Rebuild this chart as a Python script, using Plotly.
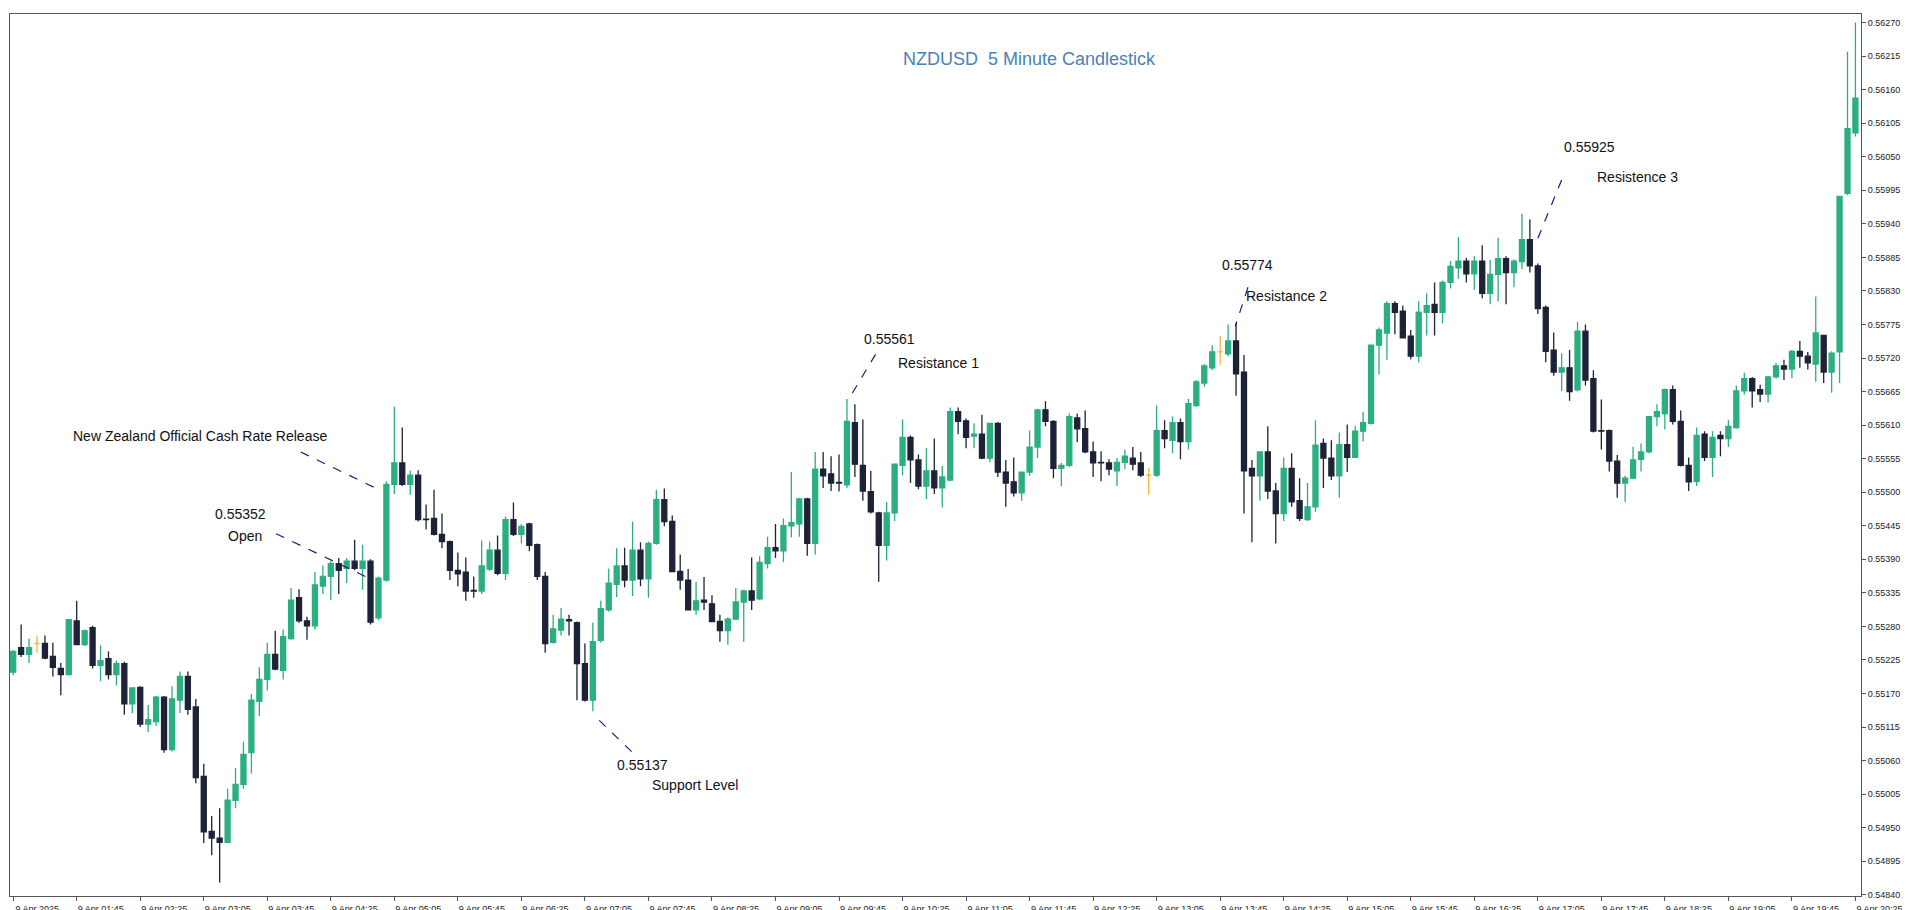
import plotly.graph_objects as go

# OHLC in units of 1e-5 (NZDUSD 5-minute candles, 9 Apr 2025 01:05 .. 20:25)
opens = [55205,55245,55234,55252,55252,55231,55211,55201,55289,55250,55278,55216,55227,55201,55219,55153,55180,55120,55124,55164,
55078,55159,55198,55148,55034,54944,54933,54926,54995,55021,55073,55157,55193,55234,55208,55260,55327,55289,55281,55346,
55362,55383,55375,55387,55375,55387,55294,55356,55513,55548,55513,55528,55456,55457,55431,55419,55372,55369,55339,55338,
55374,55405,55367,55455,55431,55448,55414,55362,55254,55274,55291,55286,55219,55159,55257,55307,55349,55379,55356,55405,
55358,55416,55488,55452,55370,55356,55307,55323,55317,55288,55273,55292,55320,55338,55325,55383,55409,55404,55445,55448,
55489,55416,55538,55530,55516,55512,55614,55544,55501,55466,55413,55466,55544,55590,55553,55510,55535,55507,55520,55632,
55617,55592,55595,55556,55613,55533,55517,55499,55533,55574,55635,55616,55539,55544,55622,55604,55566,55549,55548,55535,
55549,55556,55548,55528,55528,55601,55585,55614,55583,55642,55679,55704,55730,55727,55748,55697,55539,55527,55566,55502,
55465,55539,55486,55455,55476,55580,55556,55527,55578,55557,55600,55613,55741,55761,55809,55797,55756,55723,55795,55808,
55795,55844,55868,55879,55858,55879,55826,55857,55883,55860,55878,55914,55871,55803,55733,55697,55704,55668,55764,55686,
55601,55601,55551,55515,55523,55554,55566,55624,55629,55668,55616,55544,55518,55595,55557,55593,55588,55606,55666,55686,
55668,55661,55689,55707,55702,55731,55723,55710,55757,55697,55730,55990,56089]
highs = [55241,55283,55260,55265,55265,55253,55220,55291,55322,55275,55281,55249,55239,55224,55222,55180,55182,55151,55166,55166,
55182,55206,55206,55161,55055,54969,54982,55014,55048,55091,55169,55213,55253,55273,55275,55343,55341,55296,55369,55380,
55387,55392,55392,55422,55414,55390,55362,55518,55640,55606,55535,55536,55480,55504,55465,55421,55401,55393,55362,55421,
55419,55429,55460,55483,55448,55450,55416,55369,55299,55310,55299,55288,55252,55286,55322,55375,55408,55409,55452,55418,
55419,55504,55506,55462,55398,55374,55353,55361,55331,55299,55295,55343,55340,55393,55395,55427,55448,55457,55533,55491,
55491,55566,55566,55559,55562,55653,55644,55619,55535,55468,55484,55546,55619,55593,55562,55572,55588,55543,55639,55639,
55621,55613,55627,55613,55615,55553,55557,55533,55601,55637,55649,55618,55548,55629,55629,55634,55583,55567,55554,55556,
55570,55574,55566,55540,55642,55618,55624,55621,55653,55684,55710,55741,55756,55775,55777,55725,55553,55567,55608,55515,
55557,55564,55523,55515,55618,55588,55585,55598,55611,55609,55632,55741,55770,55813,55813,55806,55766,55813,55826,55844,
55847,55879,55918,55884,55887,55905,55881,55917,55887,55882,55956,55947,55875,55806,55762,55728,55733,55779,55775,55700,
55652,55603,55561,55527,55574,55580,55624,55644,55670,55675,55634,55557,55606,55600,55600,55600,55618,55675,55696,55689,
55676,55691,55712,55717,55733,55748,55730,55821,55757,55731,55985,56222,56270]
lows = [55200,55230,55220,55237,55226,55198,55167,55201,55249,55248,55211,55190,55193,55183,55135,55138,55115,55107,55117,55073,
55075,55138,55135,55023,54925,54905,54860,54926,54982,55014,55039,55133,55175,55208,55193,55258,55286,55258,55275,55333,
55323,55333,55351,55372,55340,55283,55290,55353,55497,55510,55496,55452,55439,55429,55408,55356,55346,55322,55327,55333,
55371,55364,55356,55428,55416,55403,55356,55237,55252,55265,55265,55159,55157,55141,55253,55304,55328,55344,55330,55346,
55327,55414,55444,55369,55340,55306,55299,55307,55287,55255,55250,55290,55255,55307,55323,55375,55392,55385,55426,55427,
55396,55398,55507,55502,55501,55507,55525,55486,55465,55353,55388,55453,55528,55515,55505,55489,55497,55475,55518,55595,
55572,55572,55554,55549,55525,55476,55493,55486,55527,55556,55608,55523,55510,55541,55582,55564,55525,55518,55528,55510,
55538,55536,55525,55496,55525,55572,55564,55554,55570,55640,55673,55700,55709,55723,55658,55465,55418,55486,55489,55416,
55453,55476,55453,55453,55468,55507,55520,55491,55533,55556,55583,55611,55693,55717,55759,55753,55718,55713,55757,55757,
55777,55834,55850,55844,55832,55818,55808,55813,55808,55836,55866,55860,55792,55713,55691,55666,55650,55665,55675,55598,
55570,55534,55491,55484,55523,55534,55564,55608,55603,55611,55542,55502,55510,55551,55525,55559,55574,55604,55660,55639,
55648,55647,55686,55684,55687,55704,55701,55681,55679,55663,55679,55987,56083]
closes = [55239,55234,55245,55252,55228,55213,55201,55291,55250,55273,55216,55224,55201,55219,55153,55179,55120,55127,55164,55078,
55161,55198,55144,55032,54943,54933,54926,54995,55021,55070,55159,55193,55234,55210,55263,55323,55289,55281,55348,55362,
55383,55372,55387,55375,55387,55287,55359,55513,55548,55513,55528,55455,55455,55431,55419,55372,55366,55338,55338,55379,
55405,55367,55455,55431,55444,55413,55362,55252,55276,55292,55289,55219,55159,55255,55309,55351,55379,55356,55405,55358,
55416,55488,55452,55370,55356,55307,55322,55320,55288,55273,55292,55320,55338,55323,55385,55409,55404,55445,55450,55489,
55416,55538,55527,55515,55515,55616,55546,55502,55468,55413,55466,55546,55590,55553,55510,55535,55507,55525,55632,55616,
55590,55595,55556,55613,55533,55515,55499,55533,55574,55635,55616,55539,55544,55624,55604,55566,55548,55548,55538,55549,
55559,55546,55528,55528,55601,55588,55614,55583,55645,55681,55707,55730,55730,55748,55694,55535,55527,55566,55502,55465,
55539,55484,55457,55476,55577,55556,55527,55578,55557,55600,55614,55741,55766,55809,55795,55753,55723,55795,55806,55795,
55844,55870,55879,55858,55879,55826,55857,55883,55860,55879,55914,55871,55801,55731,55697,55704,55665,55764,55684,55600,
55600,55551,55515,55523,55553,55566,55624,55632,55668,55616,55544,55517,55593,55557,55590,55588,55608,55666,55686,55666,
55661,55689,55707,55702,55731,55723,55712,55761,55697,55728,55985,56096,56146]

tick_idx = list(range(0, 233, 8))
tick_labels = ["9 Apr 2025","9 Apr 01:45","9 Apr 02:25","9 Apr 03:05","9 Apr 03:45","9 Apr 04:25","9 Apr 05:05",
"9 Apr 05:45","9 Apr 06:25","9 Apr 07:05","9 Apr 07:45","9 Apr 08:25","9 Apr 09:05","9 Apr 09:45","9 Apr 10:25",
"9 Apr 11:05","9 Apr 11:45","9 Apr 12:25","9 Apr 13:05","9 Apr 13:45","9 Apr 14:25","9 Apr 15:05","9 Apr 15:45",
"9 Apr 16:25","9 Apr 17:05","9 Apr 17:45","9 Apr 18:25","9 Apr 19:05","9 Apr 19:45","9 Apr 20:25"]
y_ticks = [54840 + 55 * k for k in range(27)]

GREEN = "#2bae80"
DARK = "#1e2236"
ORANGE = "#f2b53a"

S = 1e-5
idx = list(range(len(closes)))
groups = {"up": [], "down": [], "doji": []}
for i in idx:
    if closes[i] > opens[i]:
        groups["up"].append(i)
    elif closes[i] < opens[i]:
        groups["down"].append(i)
    else:
        groups["doji"].append(i)

fig = go.Figure()
for key, col in (("up", GREEN), ("down", DARK), ("doji", ORANGE)):
    g = groups[key]
    fig.add_trace(go.Candlestick(
        x=g,
        open=[opens[i] * S for i in g], high=[highs[i] * S for i in g],
        low=[lows[i] * S for i in g], close=[closes[i] * S for i in g],
        increasing=dict(line=dict(color=col, width=1.3), fillcolor=col),
        decreasing=dict(line=dict(color=col, width=1.3), fillcolor=col),
        whiskerwidth=0, showlegend=False, hoverinfo="skip"))

def ann(x, y, text, size=14):
    fig.add_annotation(x=x, y=y * S, text=text, showarrow=False,
                       font=dict(family="Liberation Sans, Arial", size=size, color="#111"))

def dline(x0, y0, x1, y1):
    fig.add_shape(type="line", x0=x0, y0=y0 * S, x1=x1, y1=y1 * S,
                  line=dict(color="#1a1a8c", width=1.2, dash="dash"))

ann(23.5, 55592, "New Zealand Official Cash Rate Release")
dline(36.2, 55566, 46.4, 55502)
ann(28.6, 55464, "0.55352")
ann(29.2, 55428, "Open")
dline(33.1, 55432, 45.3, 55356)
ann(110.4, 55752, "0.55561")
ann(116.5, 55712, "Resistance 1")
dline(108.6, 55726, 105.1, 55650)
ann(155.5, 55872, "0.55774")
ann(160.4, 55822, "Resistance 2")
dline(155.5, 55836, 153.9, 55772)
ann(198.5, 56066, "0.55925")
ann(204.6, 56016, "Resistence 3")
dline(195.0, 56012, 192.0, 55916)
ann(79.3, 55052, "0.55137")
ann(85.9, 55020, "Support Level")
dline(73.8, 55126, 78.1, 55072)
fig.add_annotation(x=128, y=56210 * S, text="NZDUSD  5 Minute Candlestick", showarrow=False,
                   font=dict(family="Liberation Sans, Arial", size=18, color="#4a82b8"))

fig.update_layout(
    width=1911, height=910,
    margin=dict(l=2, r=58, t=6, b=22),
    boxgap=0.1,
    paper_bgcolor="white", plot_bgcolor="white",
    xaxis=dict(range=[-0.4, 232.7], tickmode="array", tickvals=tick_idx, ticktext=tick_labels,
               rangeslider=dict(visible=False), showgrid=False, zeroline=False,
               showline=True, mirror=True, linecolor="#555", linewidth=1,
               ticks="outside", ticklen=4, tickcolor="#555", ticklabelshift=24,
               ticklabeloverflow="allow", ticklabelstandoff=0,
               tickfont=dict(family="Liberation Sans", size=9, color="#222")),
    yaxis=dict(side="right", range=[54838 * S, 56284 * S], tickmode="array",
               tickvals=[v * S for v in y_ticks], ticktext=["%.5f" % (v * S) for v in y_ticks],
               showgrid=False, zeroline=False, showline=True, mirror=True, linecolor="#555",
               ticks="outside", ticklen=4, tickcolor="#555", ticklabeloverflow="allow",
               tickfont=dict(family="Liberation Sans", size=9, color="#222")),
)
fig.write_html("out.html")
